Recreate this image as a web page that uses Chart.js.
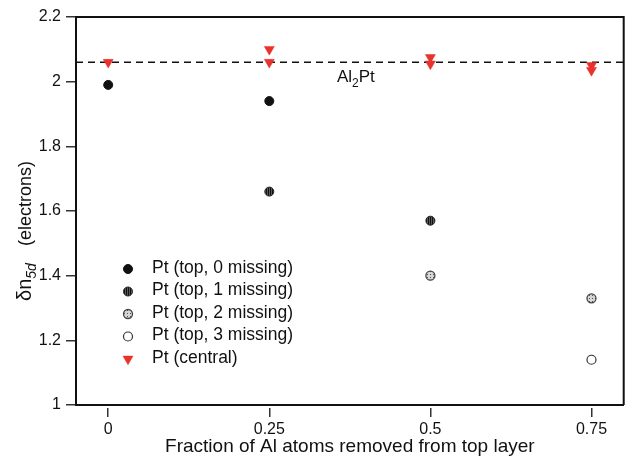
<!DOCTYPE html>
<html>
<head>
<meta charset="utf-8">
<script src="https://cdn.jsdelivr.net/npm/chart.js@4.4.1/dist/chart.umd.min.js"></script>
<style>
  html, body { margin: 0; padding: 0; background: #fff; }
  #wrap { width: 630px; height: 456px; }
</style>
</head>
<body>
<div id="wrap"><canvas id="chart" width="630" height="456"></canvas></div>
<script>
// data
const xTicks = [0, 0.25, 0.5, 0.75];
const xTickLabels = ['0', '0.25', '0.5', '0.75'];
const yTicks = [1, 1.2, 1.4, 1.6, 1.8, 2, 2.2];
const yTickLabels = ['1', '1.2', '1.4', '1.6', '1.8', '2', '2.2'];
const xMin = -0.05, xMax = 0.8;

const top0X = [0, 0.25];
const top0Y = [1.99, 1.94];
const top1X = [0.25, 0.5];
const top1Y = [1.66, 1.57];
const top2X = [0.5, 0.75];
const top2Y = [1.40, 1.33];
const top3X = [0.75];
const top3Y = [1.14];
const centralX = [0, 0.25, 0.25, 0.5, 0.5, 0.75, 0.75];
const centralY = [2.06, 2.10, 2.06, 2.075, 2.055, 2.05, 2.035];
const al2ptLevel = 2.06;

const seriesNames = ['Pt (top, 0 missing)', 'Pt (top, 1 missing)', 'Pt (top, 2 missing)', 'Pt (top, 3 missing)', 'Pt (central)'];
const xTitle = 'Fraction of Al atoms removed from top layer';
const FONT = "'Liberation Sans', Arial, Helvetica, sans-serif";
const INK = '#111';
const RED = '#e8322c';

function pts(xs, ys) { return xs.map((x, i) => ({ x: x, y: ys[i] })); }

// fill patterns for the shaded markers
function makePattern(w, h, bg, fg, cells) {
  const c = document.createElement('canvas');
  c.width = w; c.height = h;
  const g = c.getContext('2d');
  g.fillStyle = bg; g.fillRect(0, 0, w, h);
  g.fillStyle = fg;
  cells.forEach(p => g.fillRect(p[0], p[1], 1, 1));
  return g.createPattern(c, 'repeat');
}
const ctx = document.getElementById('chart').getContext('2d');
const stripes = makePattern(2, 1, '#5a5a5a', '#111', [[0, 0]]);
const dots = makePattern(3, 3, '#d6d6d6', '#555', [[1, 1]]);

const styles = [
  { backgroundColor: INK, borderColor: INK, borderWidth: 1, pointStyle: 'circle', radius: 4.5, rotation: 0 },
  { backgroundColor: stripes, borderColor: '#222', borderWidth: 1, pointStyle: 'circle', radius: 4.5, rotation: 0 },
  { backgroundColor: dots, borderColor: '#444', borderWidth: 1.3, pointStyle: 'circle', radius: 4.5, rotation: 0 },
  { backgroundColor: '#fff', borderColor: '#333', borderWidth: 1.2, pointStyle: 'circle', radius: 4.5, rotation: 0 },
  { backgroundColor: RED, borderColor: RED, borderWidth: 0.5, pointStyle: 'triangle', radius: 5.8, rotation: 180 }
];
const seriesData = [pts(top0X, top0Y), pts(top1X, top1Y), pts(top2X, top2Y), pts(top3X, top3Y), pts(centralX, centralY)];

const datasets = seriesData.map((d, i) => ({
  type: 'scatter',
  label: seriesNames[i],
  data: d,
  order: 0,
  backgroundColor: styles[i].backgroundColor,
  borderColor: styles[i].borderColor,
  borderWidth: styles[i].borderWidth,
  pointStyle: styles[i].pointStyle,
  pointRadius: styles[i].radius,
  pointRotation: styles[i].rotation,
  pointHoverRadius: styles[i].radius
}));
datasets.push({
  type: 'line',
  label: 'Al2Pt',
  data: [{ x: xMin, y: al2ptLevel }, { x: xMax, y: al2ptLevel }],
  order: 1,
  borderColor: INK,
  borderWidth: 1.4,
  borderDash: [7, 5],
  pointRadius: 0,
  fill: false
});

function drawMarker(c, s, x, y) {
  c.save();
  c.fillStyle = s.backgroundColor;
  c.strokeStyle = s.borderColor;
  c.lineWidth = s.borderWidth;
  Chart.helpers.drawPoint(c, { pointStyle: s.pointStyle, rotation: s.rotation, radius: s.radius, borderWidth: s.borderWidth }, x, y);
  c.restore();
}

const decor = {
  id: 'decor',
  afterDraw(chart) {
    const c = chart.ctx, a = chart.chartArea;
    const sx = chart.scales.x, sy = chart.scales.y;
    c.save();
    // top and right frame
    c.strokeStyle = INK; c.lineWidth = 2;
    c.beginPath();
    c.moveTo(a.left, a.top); c.lineTo(a.right, a.top); c.lineTo(a.right, a.bottom);
    c.stroke();

    // Al2Pt label
    c.fillStyle = INK;
    c.textBaseline = 'alphabetic';
    c.font = '17px ' + FONT;
    let lx = sx.getPixelForValue(0.355), ly = sy.getPixelForValue(2.0);
    c.fillText('Al', lx, ly); lx += c.measureText('Al').width;
    c.font = '12px ' + FONT;
    c.fillText('2', lx, ly + 5); lx += c.measureText('2').width;
    c.font = '17px ' + FONT;
    c.fillText('Pt', lx, ly);

    // legend
    c.textBaseline = 'middle';
    seriesNames.forEach((n, i) => {
      const my = a.top + 252 + i * 22.5;
      drawMarker(c, styles[i], a.left + 52, my);
      c.fillStyle = INK;
      c.font = '17.5px ' + FONT;
      c.fillText(n, a.left + 76, my - 1);
    });

    // y title with subscript
    const parts = [
      { t: '\u03b4n', f: '20px ' + FONT, dy: 0 },
      { t: '5d', f: 'italic 14px ' + FONT, dy: 5 },
      { t: '\u2003', f: '17px ' + FONT, dy: 0 },
      { t: '(electrons)', f: '18px ' + FONT, dy: 0 }
    ];
    let total = 0;
    parts.forEach(p => { c.font = p.f; p.w = c.measureText(p.t).width; total += p.w; });
    c.translate(31, 231);
    c.rotate(-Math.PI / 2);
    c.textBaseline = 'alphabetic';
    let px = -total / 2;
    parts.forEach(p => { c.font = p.f; c.fillText(p.t, px, p.dy); px += p.w; });
    c.restore();
  }
};

new Chart(ctx, {
  data: { datasets: datasets },
  options: {
    responsive: false,
    animation: false,
    devicePixelRatio: 1,
    layout: { padding: { left: 0, top: 17, right: 2, bottom: 0 } },
    plugins: { legend: { display: false }, tooltip: { enabled: false } },
    scales: {
      x: {
        type: 'linear', position: 'bottom', min: xMin, max: xMax, weight: 0,
        grid: { drawOnChartArea: false, drawTicks: false },
        border: { display: true, color: INK, width: 2 },
        ticks: { display: false },
        afterFit(s) { s.height = 3; }
      },
      x2: {
        type: 'linear', position: 'bottom', min: xMin, max: xMax, weight: 1,
        afterBuildTicks(s) { s.ticks = xTicks.map(v => ({ value: v })); },
        grid: { drawOnChartArea: false, drawTicks: true, tickLength: 9, color: '#333', lineWidth: 1.5 },
        border: { display: false },
        ticks: {
          padding: 3, color: INK, maxRotation: 0, autoSkip: false,
          font: { family: FONT, size: 16 },
          callback: (v, i) => xTickLabels[i]
        },
        title: { display: true, text: xTitle, color: INK, font: { family: FONT, size: 19, lineHeight: 1 }, padding: { top: 0, bottom: 0 } },
        afterFit(s) { s.height = 48; }
      },
      y: {
        type: 'linear', position: 'left', min: 1, max: 2.2,
        afterBuildTicks(s) { s.ticks = yTicks.map(v => ({ value: v })); },
        grid: { drawOnChartArea: false, tickLength: 10, color: '#333', lineWidth: 1.5 },
        border: { color: INK, width: 2 },
        ticks: {
          padding: 5, color: INK,
          font: { family: FONT, size: 16 },
          callback: (v, i) => yTickLabels[i]
        },
        afterFit(s) { s.width = 76; }
      }
    }
  },
  plugins: [decor]
});
</script>
</body>
</html>
